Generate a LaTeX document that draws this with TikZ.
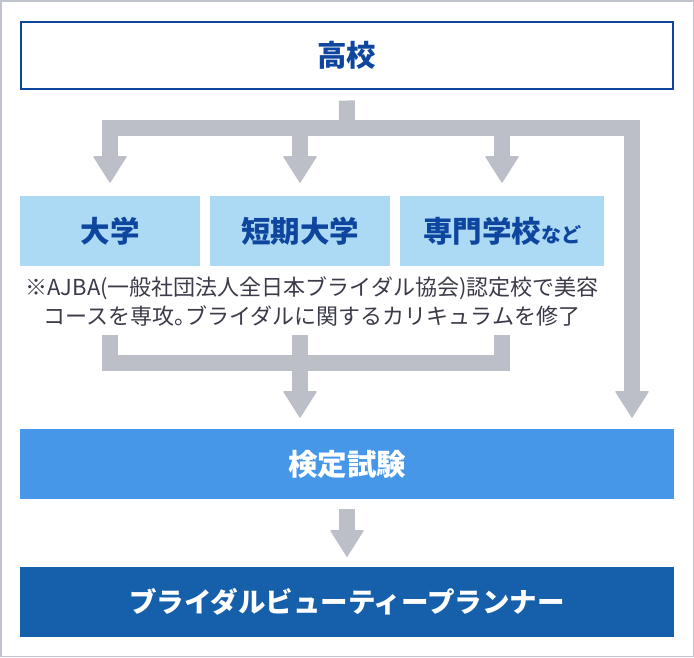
\documentclass[tikz,border=0pt]{standalone}
\usepackage{fontspec}
\setmainfont{Noto Sans CJK JP}
\usetikzlibrary{arrows.meta}
\definecolor{framegray}{HTML}{C1C4CC}
\definecolor{navy}{HTML}{0E469F}
\definecolor{paleblue}{HTML}{ACD9F3}
\definecolor{midblue}{HTML}{4797E9}
\definecolor{deepblue}{HTML}{165FAB}
\definecolor{bargray}{HTML}{BCBFC8}
\definecolor{notegray}{HTML}{3A3A48}

\begin{document}
\begin{tikzpicture}[x=1pt,y=-1pt,
  box/.style={rectangle, inner sep=0pt, minimum height=70pt},
  title/.style={font=\fontsize{29.5}{31}\selectfont\bfseries},
  school/.style={box, fill=paleblue, text=navy, title},
  bar/.style={draw=bargray, line width=16pt},
  tip/.style={-{Triangle[width=34pt,length=27pt,line width=1pt,round]}}]
\useasboundingbox (0,0) rectangle (694,657);
\draw[framegray, line width=1.5pt] (0.75,0.75) rectangle (693.25,656.25);

\node[box, draw=navy, line width=2pt, fill=white, text=navy, title, minimum width=652pt, minimum height=67pt] (ko) at (346.75,55) {高校};
\node[school, minimum width=180pt] (dai) at (110,231) {大学};
\node[school, minimum width=180pt] (tan) at (300,231) {短期大学};
\node[school, minimum width=204pt] (sen) at (502,231) {専門学校{\fontsize{20}{20}\selectfont など}};
\node[align=center, text=notegray, font=\fontsize{22}{29}\selectfont, inner sep=0pt] (note) at (312,301)
  {※AJBA(一般社団法人全日本ブライダル協会)認定校で美容\\コースを専攻。\kern-0.5em ブライダルに関するカリキュラムを修了};
\node[box, fill=midblue, text=white, title, minimum width=654pt] (kentei) at (347,464) {検定試験};
\node[box, fill=deepblue, text=white, title, font=\fontsize{27.5}{30}\selectfont\bfseries, minimum width=654pt] (bp) at (347,602) {ブライダルビューティープランナー};

\coordinate (split) at (347,128);
\coordinate (join) at (300,363);
\coordinate (kr) at (kentei.north -| 632,0);
\draw[bar, shorten <=11pt] (ko.south) -- (split);
\draw[bar, tip, shorten >=13pt] (split) -| (dai.north);
\draw[bar, tip, shorten >=13pt] (tan.north |- split) -- (tan.north);
\draw[bar, tip, shorten >=13pt] (sen.north |- split) -- (sen.north);
\draw[bar, tip, shorten >=11pt] (split) -| (kr);
\draw[bar, shorten <=69pt] (dai.south) |- (join);
\draw[bar, shorten <=69pt] (sen.south) |- (join);
\draw[bar, tip, shorten <=69pt, shorten >=11pt] (tan.south) -- (tan.south |- kentei.north);
\draw[bar, tip, shorten <=10pt, shorten >=10pt] (kentei.south) -- (bp.north);
\end{tikzpicture}
\end{document}
